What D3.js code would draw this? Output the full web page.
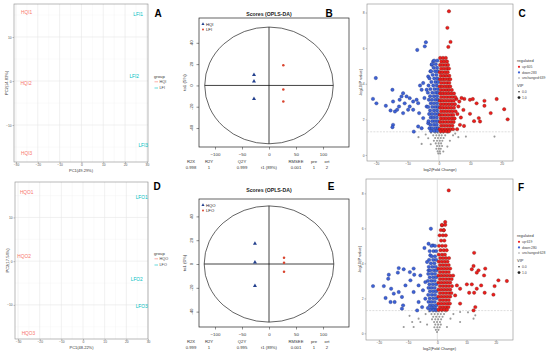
<!DOCTYPE html>
<html><head><meta charset="utf-8">
<script src="https://cdn.jsdelivr.net/npm/d3@7"></script>
<style>body{margin:0;background:#fff}svg{display:block;font-family:"Liberation Sans",Arial,sans-serif}</style>
</head><body><script>
// ---------- DATA ----------
// Panel A (PCA, I)
const pcaA_labels=["HQI1","HQI2","HQI3","LFI1","LFI2","LFI3"];
const pcaA_group=["HQI","HQI","HQI","LFI","LFI","LFI"];
const pcaA_pc1=[-25.1,-25.4,-25.1,26.0,24.2,28.3];
const pcaA_pc2=[15.6,-0.5,-16.4,15.2,1.0,-14.7];
// Panel D (PCA, O)
const pcaD_labels=["HQO1","HQO2","HQO3","LFO1","LFO2","LFO3"];
const pcaD_group=["HQO","HQO","HQO","LFO","LFO","LFO"];
const pcaD_pc1=[-26.0,-27.2,-25.2,27.1,24.8,27.1];
const pcaD_pc2=[15.7,1.1,-16.5,14.5,-4.1,-10.3];
const pcaXTicks=[-30,-20,-10,0,10,20,30];
const pcaYTicks=[-10,0,10];
// Panel B (OPLS-DA, I)
const oplsB_group=["HQI","HQI","HQI","LFI","LFI","LFI"];
const oplsB_t1=[-27.8,-27.8,-27.8,26.5,26.5,26.5];
const oplsB_to1=[9.9,3.8,-12.6,19.0,-3.8,-15.0];
const oplsB_stats=["0.998","1","0.999","0.001","1","2"];
// Panel E (OPLS-DA, O)
const oplsE_group=["HQO","HQO","HQO","LFO","LFO","LFO"];
const oplsE_t1=[-26.0,-26.0,-26.0,27.8,27.8,27.8];
const oplsE_to1=[17.1,1.4,-18.3,5.3,1.1,-6.5];
const oplsE_stats=["0.999","1","0.995","0.001","1","2"];
const oplsStatNames=["R2X","R2Y","Q2Y","RMSEE","pre","ort"];
const oplsXTicks=[-100,-50,0,50,100];
const oplsYTicks=[-40,-20,0,20,40];
// Panel C (volcano, I): [log2FC, -log10 P]
const volC_up=[[3.2,8.07],[2.7,7.14],[3.7,6.35],[3.0,6.07],[5.6,3.14],[8.1,3.15],[10.8,3.14],[12.0,2.9],[14.5,3.04],[14.5,2.76],[18.4,3.14],[20.8,2.57],[21.9,2.0],[16.5,2.35],[13.1,1.88],[9.9,2.31],[8.0,1.63],[6.7,1.69],[12.7,2.07],[9.9,3.1],[6.2,2.72],[7.8,2.53],[6.5,3.0],[7.2,3.2],[5.8,1.45],[7.0,2.1],[11.2,1.9],[5.9,2.3],
[0.4,5.45],[1.3,5.45],[2.2,5.45],[0.8,5.25],[1.7,5.25],[2.6,5.25],[0.4,5.05],[1.2,5.05],[2.1,5.05],[2.9,5.05],[0.7,4.85],[1.6,4.85],[2.5,4.85],[3.2,4.85],[0.3,4.65],[1.1,4.65],[2.0,4.65],[2.8,4.65],[0.6,4.45],[1.5,4.45],[2.4,4.45],[3.3,4.45],[0.4,4.25],[1.2,4.25],[2.0,4.25],[2.9,4.25],[3.6,4.25],[0.7,4.05],[1.6,4.05],[2.5,4.05],[3.3,4.05],[0.3,3.85],[1.1,3.85],[2.0,3.85],[2.8,3.85],[3.6,3.85],[0.6,3.65],[1.5,3.65],[2.4,3.65],[3.2,3.65],[4.1,3.65],[0.4,3.45],[1.2,3.45],[2.1,3.45],[3.0,3.45],[3.9,3.45],[4.8,3.45],[0.7,3.25],[1.6,3.25],[2.5,3.25],[3.4,3.25],[4.3,3.25],[5.2,3.25],[0.3,3.05],[1.1,3.05],[2.0,3.05],[2.9,3.05],[3.8,3.05],[4.7,3.05],[0.6,2.85],[1.5,2.85],[2.4,2.85],[3.3,2.85],[4.2,2.85],[5.1,2.85],[0.4,2.65],[1.2,2.65],[2.1,2.65],[3.0,2.65],[3.9,2.65],[4.8,2.65],[0.7,2.45],[1.6,2.45],[2.5,2.45],[3.4,2.45],[4.3,2.45],[5.3,2.45],[0.3,2.25],[1.1,2.25],[2.0,2.25],[2.9,2.25],[3.8,2.25],[4.6,2.25],[0.6,2.05],[1.5,2.05],[2.4,2.05],[3.3,2.05],[4.2,2.05],[5.0,2.05],[0.4,1.85],[1.2,1.85],[2.1,1.85],[3.0,1.85],[3.9,1.85],[4.7,1.85],[0.7,1.65],[1.6,1.65],[2.5,1.65],[3.4,1.65],[4.3,1.65],[0.3,1.45],[1.1,1.45],[2.0,1.45],[2.9,1.45],[3.7,1.45],[4.5,1.45],[0.6,1.33],[1.5,1.33],[2.4,1.33],[3.2,1.33]];
const volC_down=[[-4.15,6.33],[-4.5,6.1],[-6.9,5.9],[-20.1,4.32],[-21.0,3.15],[-19.9,2.9],[-16.9,2.76],[-14.8,3.66],[-14.6,3.0],[-15.4,2.5],[-14.0,2.44],[-11.4,3.47],[-11.9,3.29],[-12.5,3.1],[-10.3,3.29],[-9.3,3.19],[-8.2,3.0],[-7.1,3.1],[-9.3,2.72],[-11.4,2.35],[-10.9,2.9],[-12.7,2.72],[-13.3,2.54],[-14.6,1.69],[-14.8,1.56],[-8.0,1.31],[-6.6,1.6],[-5.5,1.5],[-5.0,2.07],[-3.4,1.78],[-6.3,2.35],[-3.9,2.72],[-5.0,4.04],[-3.4,4.41],[-2.3,5.07],[-1.8,5.26],[-2.7,4.7],[-3.9,3.66],[-5.5,3.66],[-6.6,2.91],[-8.2,2.54],[-9.8,2.54],[-4.6,3.2],[-6.0,3.9],
[-1.5,5.3],[-0.5,5.3],[-2.2,5.1],[-1.0,5.1],[-1.7,4.9],[-0.6,4.9],[-2.5,4.7],[-1.2,4.7],[-0.4,4.7],[-2.0,4.5],[-0.8,4.5],[-3.0,4.3],[-1.5,4.3],[-0.5,4.3],[-2.4,4.1],[-1.1,4.1],[-0.3,4.1],[-3.3,3.9],[-1.8,3.9],[-0.7,3.9],[-2.7,3.7],[-1.4,3.7],[-0.4,3.7],[-3.5,3.5],[-2.1,3.5],[-1.0,3.5],[-0.3,3.5],[-2.8,3.3],[-1.6,3.3],[-0.6,3.3],[-3.2,3.1],[-2.2,3.1],[-1.1,3.1],[-0.3,3.1],[-2.6,2.9],[-1.6,2.9],[-0.6,2.9],[-3.4,2.7],[-2.1,2.7],[-1.1,2.7],[-0.3,2.7],[-2.8,2.5],[-1.6,2.5],[-0.6,2.5],[-3.1,2.3],[-2.2,2.3],[-1.2,2.3],[-0.3,2.3],[-2.6,2.1],[-1.7,2.1],[-0.7,2.1],[-3.3,1.9],[-2.1,1.9],[-1.2,1.9],[-0.4,1.9],[-2.7,1.7],[-1.6,1.7],[-0.7,1.7],[-3.0,1.5],[-2.2,1.5],[-1.1,1.5],[-0.3,1.5],[-2.5,1.35],[-1.5,1.35],[-0.6,1.35]];
const volC_unch=[[-2.5,1.25],[-1.2,1.25],[-0.4,1.25],[0.5,1.25],[1.4,1.25],[2.8,1.25],[-1.8,1.1],[-0.8,1.1],[0.1,1.1],[0.9,1.1],[2.0,1.1],[-1.2,0.95],[-0.3,0.95],[0.6,0.95],[1.5,0.95],[-1.6,0.8],[-0.6,0.8],[0.3,0.8],[1.1,0.8],[-1.0,0.65],[-0.1,0.65],[0.7,0.65],[-0.6,0.5],[0.2,0.5],[1.0,0.5],[-0.8,0.35],[0.0,0.35],[0.6,0.35],[-0.4,0.2],[0.3,0.2],[-0.2,0.08],[0.4,0.08],[17.7,1.03],[8.6,1.03],[6.2,1.0],[-3.4,0.94],[-5.5,0.62],[2.7,0.47],[1.4,0.19],[4.5,1.1],[-4.2,1.15],[3.5,0.8],[-2.6,0.6],[5.2,1.2],[-6.5,1.0]];
// Panel F (volcano, O)
const volF_up=[[3.9,8.17],[1.6,6.17],[2.2,5.89],[2.7,6.36],[12.6,4.6],[12.4,3.85],[11.8,3.66],[14.1,3.6],[16.4,3.7],[16.0,3.31],[13.5,3.47],[10.1,2.8],[11.8,2.8],[15.0,2.74],[13.5,2.55],[12.6,2.32],[10.9,2.32],[16.2,2.32],[19.2,2.21],[19.6,2.7],[20.9,3.03],[23.8,2.99],[7.8,2.55],[6.7,2.74],[6.1,2.17],[13.0,1.5],[12.4,1.31],[7.8,1.7],
[1.6,6.2],[2.7,6.2],[1.2,5.9],[2.2,5.9],[0.8,5.6],[1.9,5.6],[2.9,5.6],[1.3,5.3],[2.4,5.3],[0.6,5.0],[1.7,5.0],[2.8,5.0],[1.1,4.75],[2.2,4.75],[3.2,4.75],[0.5,4.5],[1.6,4.5],[2.6,4.5],[1.0,4.3],[2.0,4.3],[3.0,4.3],[4.0,4.3],[0.5,4.1],[1.5,4.1],[2.5,4.1],[3.5,4.1],[0.9,3.9],[1.9,3.9],[2.9,3.9],[3.9,3.9],[0.4,3.7],[1.4,3.7],[2.4,3.7],[3.4,3.7],[4.4,3.7],[0.9,3.5],[1.9,3.5],[2.9,3.5],[3.9,3.5],[0.4,3.3],[1.4,3.3],[2.4,3.3],[3.4,3.3],[4.4,3.3],[5.4,3.3],[0.9,3.1],[1.9,3.1],[2.9,3.1],[3.9,3.1],[4.9,3.1],[0.4,2.9],[1.4,2.9],[2.4,2.9],[3.4,2.9],[4.4,2.9],[0.9,2.7],[1.9,2.7],[2.9,2.7],[3.9,2.7],[5.0,2.7],[0.4,2.5],[1.4,2.5],[2.4,2.5],[3.4,2.5],[4.4,2.5],[0.9,2.3],[1.9,2.3],[2.9,2.3],[3.9,2.3],[4.8,2.3],[0.4,2.1],[1.4,2.1],[2.4,2.1],[3.4,2.1],[4.4,2.1],[0.9,1.9],[1.9,1.9],[2.9,1.9],[3.9,1.9],[0.4,1.7],[1.4,1.7],[2.4,1.7],[3.4,1.7],[4.3,1.7],[0.9,1.5],[1.9,1.5],[2.9,1.5],[3.8,1.5],[0.4,1.35],[1.4,1.35],[2.4,1.35],[3.3,1.35]];
const volF_down=[[-2.2,5.98],[-4.4,4.88],[-3.0,5.12],[-1.5,5.03],[-22.0,2.7],[-18.3,2.7],[-16.6,3.35],[-16.8,3.12],[-13.2,3.73],[-13.5,3.47],[-11.5,3.66],[-9.4,3.5],[-8.1,3.7],[-7.9,3.35],[-9.2,3.03],[-5.8,3.31],[-15.8,2.55],[-14.9,2.27],[-17.7,2.02],[-16.0,1.79],[-14.6,1.79],[-12.1,2.08],[-13.2,2.36],[-12.1,1.41],[-11.7,1.6],[-10.9,2.74],[-8.1,2.36],[-6.4,1.79],[-5.2,1.5],[-6.9,1.31],[-4.1,1.98],[-6.4,2.74],[-4.1,2.93],[-3.0,3.6],[-3.5,4.08],[-2.4,4.46],[-4.9,2.46],
[-2.0,5.0],[-0.8,5.0],[-2.6,4.7],[-1.3,4.7],[-0.4,4.7],[-1.9,4.4],[-0.8,4.4],[-2.8,4.2],[-1.4,4.2],[-0.4,4.2],[-2.2,4.0],[-1.0,4.0],[-2.9,3.8],[-1.7,3.8],[-0.6,3.8],[-2.4,3.6],[-1.2,3.6],[-0.3,3.6],[-3.1,3.4],[-1.9,3.4],[-0.8,3.4],[-2.6,3.2],[-1.4,3.2],[-0.4,3.2],[-3.2,3.0],[-2.0,3.0],[-0.9,3.0],[-2.7,2.8],[-1.5,2.8],[-0.4,2.8],[-3.0,2.6],[-2.0,2.6],[-0.9,2.6],[-2.5,2.4],[-1.4,2.4],[-0.4,2.4],[-3.1,2.2],[-1.9,2.2],[-0.8,2.2],[-2.6,2.0],[-1.4,2.0],[-0.3,2.0],[-3.0,1.8],[-2.0,1.8],[-0.9,1.8],[-2.5,1.6],[-1.5,1.6],[-0.4,1.6],[-3.2,1.45],[-1.9,1.45],[-0.8,1.45],[-2.4,1.33],[-1.2,1.33],[-0.3,1.33]];
const volF_unch=[[-2.8,1.25],[-1.5,1.25],[-0.5,1.25],[0.6,1.25],[1.6,1.25],[2.9,1.25],[-2.0,1.1],[-0.9,1.1],[0.2,1.1],[1.2,1.1],[2.3,1.1],[-1.4,0.95],[-0.4,0.95],[0.7,0.95],[1.8,0.95],[-1.8,0.8],[-0.7,0.8],[0.3,0.8],[1.3,0.8],[-1.1,0.65],[-0.1,0.65],[0.9,0.65],[-0.7,0.5],[0.3,0.5],[1.2,0.5],[-1.0,0.35],[0.0,0.35],[0.8,0.35],[-0.5,0.2],[0.4,0.2],[-0.1,0.08],[-11.5,0.36],[-8.1,0.36],[-5.8,0.65],[-8.6,0.65],[-6.4,0.84],[4.5,0.84],[7.8,1.22],[12.4,0.84],[13.0,1.03],[3.3,0.36],[7.8,0.65],[-4.0,1.1],[-3.5,0.5],[5.5,1.1],[10.5,1.2],[-9.5,1.0]];
const volXTicks=[-20,-10,0,10,20];
const volYTicks=[0,2,4,6,8];
const volC_legend=["up:605","down:283","unchanged:639"];
const volF_legend=["up:619","down:280","unchanged:628"];
const vipLegend=["0.0","1.0"];

// ---------- DRAW ----------
const svg=d3.select("body").append("svg").attr("width",550).attr("height",353);
svg.append("rect").attr("width",550).attr("height",353).attr("fill","#fff");
const FONT='"Liberation Sans",Arial,sans-serif';
function txt(g,x,y,s,o={}){
  const t=g.append("text").attr("x",x).attr("y",y).text(s)
    .attr("font-size",o.size||4).attr("fill",o.fill||"#444")
    .attr("text-anchor",o.anchor||"middle").attr("font-weight",o.weight||"normal");
  if(o.rot!==undefined) t.attr("transform",`rotate(${o.rot},${x},${y})`);
  return t;
}
function panelLetter(x,y,s){txt(svg,x,y,s,{size:10,fill:"#000",weight:"bold"});}

function pcaPanel(c){
  const g=svg.append("g");
  const x=d3.scaleLinear().domain(c.xd).range([c.l,c.r]);
  const y=d3.scaleLinear().domain(c.yd).range([c.b,c.t]);
  const xMinor=pcaXTicks.slice(0,-1).map((d,i)=>(d+pcaXTicks[i+1])/2);
  const yMinor=[-15,-5,5,15];
  g.selectAll(null).data(xMinor).enter().append("line").attr("x1",d=>x(d)).attr("x2",d=>x(d)).attr("y1",c.t).attr("y2",c.b).attr("stroke","#f3f3f3").attr("stroke-width",0.4);
  g.selectAll(null).data(yMinor).enter().append("line").attr("y1",d=>y(d)).attr("y2",d=>y(d)).attr("x1",c.l).attr("x2",c.r).attr("stroke","#f3f3f3").attr("stroke-width",0.4);
  g.selectAll(null).data(pcaXTicks).enter().append("line").attr("x1",d=>x(d)).attr("x2",d=>x(d)).attr("y1",c.t).attr("y2",c.b).attr("stroke","#e6e6e6").attr("stroke-width",0.6);
  g.selectAll(null).data(pcaYTicks).enter().append("line").attr("y1",d=>y(d)).attr("y2",d=>y(d)).attr("x1",c.l).attr("x2",c.r).attr("stroke","#e6e6e6").attr("stroke-width",0.6);
  g.append("rect").attr("x",c.l).attr("y",c.t).attr("width",c.r-c.l).attr("height",c.b-c.t).attr("fill","none").attr("stroke","#8a8a8a").attr("stroke-width",0.6);
  const ax=g.append("g").attr("transform",`translate(0,${c.b})`).call(d3.axisBottom(x).tickValues(pcaXTicks).tickSize(1.5).tickPadding(0.5));
  const ay=g.append("g").attr("transform",`translate(${c.l},0)`).call(d3.axisLeft(y).tickValues(pcaYTicks).tickSize(1.5).tickPadding(0.8));
  [ax,ay].forEach(a=>{a.select(".domain").remove();a.selectAll("line").attr("stroke","#666").attr("stroke-width",0.4);a.selectAll("text").attr("font-size",3.3).attr("fill","#555").attr("font-family",FONT);});
  const col={[c.groups[0]]:"#F8766D",[c.groups[1]]:"#00BFC4"};
  g.selectAll(null).data(c.labels).enter().append("text")
    .attr("x",(d,i)=>x(c.pc1[i])).attr("y",(d,i)=>y(c.pc2[i])+1.7)
    .attr("text-anchor","middle").attr("font-size",4.8).attr("fill",(d,i)=>col[c.group[i]]).text(d=>d);
  txt(g,(c.l+c.r)/2,c.b+10,c.xlab,{size:4,fill:"#333"});
  txt(g,c.l-6.5,(c.t+c.b)/2,c.ylab,{size:4,fill:"#333",rot:-90});
  // legend
  txt(g,c.lx,c.ly,"group",{size:4.2,fill:"#333",anchor:"start"});
  c.groups.forEach((gr,i)=>{
    const yy=c.ly+5+i*6.2;
    g.append("line").attr("x1",c.lx+0.5).attr("x2",c.lx+4).attr("y1",yy-1.2).attr("y2",yy-1.2).attr("stroke",col[gr]).attr("stroke-width",0.6);
    txt(g,c.lx+5.5,yy,gr,{size:3.8,fill:"#444",anchor:"start"});
  });
}

function oplsPanel(c){
  const g=svg.append("g");
  const x=d3.scaleLinear().domain(c.xd).range([c.l,c.r]);
  const y=d3.scaleLinear().domain(c.yd).range([c.b,c.t]);
  txt(g,269,c.titleY,"Scores (OPLS-DA)",{size:5.2,fill:"#222",weight:"bold"});
  g.append("rect").attr("x",c.l).attr("y",c.t).attr("width",c.r-c.l).attr("height",c.b-c.t).attr("fill","none").attr("stroke","#222").attr("stroke-width",0.7);
  const cx=x(0),cy=y(c.ecy),rx=x(c.erx)-x(0),ry=y(0)-y(c.ery);
  g.append("ellipse").attr("cx",cx).attr("cy",cy).attr("rx",rx).attr("ry",ry).attr("fill","none").attr("stroke","#222").attr("stroke-width",0.7);
  g.append("line").attr("x1",cx-rx).attr("x2",cx+rx).attr("y1",y(0)).attr("y2",y(0)).attr("stroke","#111").attr("stroke-width",0.8);
  g.append("line").attr("x1",x(0)).attr("x2",x(0)).attr("y1",cy-ry).attr("y2",cy+ry).attr("stroke","#111").attr("stroke-width",0.8);
  const ax=g.append("g").attr("transform",`translate(0,${c.b})`).call(d3.axisBottom(x).tickValues(oplsXTicks).tickSize(2.5).tickPadding(3).tickFormat(d3.format("d")));
  ax.select(".domain").remove();ax.selectAll("line").attr("stroke","#222").attr("stroke-width",0.5);
  ax.selectAll("text").attr("font-size",4.4).attr("fill","#333").attr("font-family",FONT);
  const ay=g.append("g").attr("transform",`translate(${c.l},0)`).call(d3.axisLeft(y).tickValues(oplsYTicks).tickSize(2.5).tickPadding(0).tickFormat(()=>""));
  ay.select(".domain").remove();ay.selectAll("line").attr("stroke","#222").attr("stroke-width",0.5);
  g.selectAll(null).data(oplsYTicks).enter().append("text").attr("x",c.l-6).attr("y",d=>y(d))
    .attr("transform",d=>`rotate(-90,${c.l-6},${y(d)})`).attr("text-anchor","middle")
    .attr("font-size",4.4).attr("fill","#333").text(d=>d);
  txt(g,c.l-13,(c.t+c.b)/2,c.ylab,{size:4.4,fill:"#333",rot:-90});
  // points
  const blue="#23408e",red="#d9452f";
  g.selectAll(null).data(c.t1).enter().append("path")
    .attr("transform",(d,i)=>`translate(${x(d)},${y(c.to1[i])})`)
    .attr("d",(d,i)=>c.group[i]===c.groups[0]?d3.symbol(d3.symbolTriangle,7)():d3.symbol(d3.symbolCircle,5)())
    .attr("fill",(d,i)=>c.group[i]===c.groups[0]?blue:red);
  // legend
  g.append("path").attr("transform",`translate(${c.l+4},${c.t+6})`).attr("d",d3.symbol(d3.symbolTriangle,4)()).attr("fill",blue);
  txt(g,c.l+7,c.t+7.5,c.groups[0],{size:4.2,fill:"#222",anchor:"start"});
  g.append("path").attr("transform",`translate(${c.l+4},${c.t+11.5})`).attr("d",d3.symbol(d3.symbolCircle,3)()).attr("fill",red);
  txt(g,c.l+7,c.t+13,c.groups[1],{size:4.2,fill:"#222",anchor:"start"});
  // stats table
  const sx=[191,209,242,296,314,327];
  oplsStatNames.forEach((n,i)=>{
    txt(g,sx[i],c.b+16,n,{size:4.2,fill:"#333"});
    txt(g,sx[i],c.b+21.5,c.stats[i],{size:4.2,fill:"#333"});
  });
  txt(g,269,c.b+21.5,"t1 (89%)",{size:4.2,fill:"#333"});
}

function volPanel(c){
  const g=svg.append("g");
  const x=d3.scaleLinear().domain(c.xd).range([c.l,c.r]);
  const y=d3.scaleLinear().domain(c.yd).range([c.b,c.t]);
  g.append("rect").attr("x",c.l).attr("y",c.t).attr("width",c.r-c.l).attr("height",c.b-c.t).attr("fill","#fff").attr("stroke","#8a8a8a").attr("stroke-width",0.6);
  g.append("line").attr("x1",x(0)).attr("x2",x(0)).attr("y1",c.t).attr("y2",c.b).attr("stroke","#c8c8c8").attr("stroke-width",0.6);
  g.append("line").attr("x1",c.l).attr("x2",c.r).attr("y1",y(1.3)).attr("y2",y(1.3)).attr("stroke","#c8c8c8").attr("stroke-width",0.6).attr("stroke-dasharray","2,1.2");
  g.selectAll(null).data(c.unch).enter().append("circle").attr("cx",d=>x(d[0])).attr("cy",d=>y(d[1])).attr("r",1.05).attr("fill","#9a9a9a");
  g.selectAll(null).data(c.down).enter().append("circle").attr("cx",d=>x(d[0])).attr("cy",d=>y(d[1])).attr("r",1.7).attr("fill","#3d62d6").attr("stroke","#1f2f7a").attr("stroke-width",0.35);
  g.selectAll(null).data(c.up).enter().append("circle").attr("cx",d=>x(d[0])).attr("cy",d=>y(d[1])).attr("r",1.7).attr("fill","#ee1c1c").attr("stroke","#6a1a0e").attr("stroke-width",0.35);
  const ax=g.append("g").attr("transform",`translate(0,${c.b})`).call(d3.axisBottom(x).tickValues(volXTicks).tickSize(1.5).tickPadding(0.5));
  const ay=g.append("g").attr("transform",`translate(${c.l},0)`).call(d3.axisLeft(y).tickValues(volYTicks).tickSize(1.5).tickPadding(0.8));
  [ax,ay].forEach(a=>{a.select(".domain").remove();a.selectAll("line").attr("stroke","#666").attr("stroke-width",0.4);a.selectAll("text").attr("font-size",3.3).attr("fill","#555").attr("font-family",FONT);});
  txt(g,(c.l+c.r)/2,c.b+9.5,"log2(Fold Change)",{size:4,fill:"#333"});
  txt(g,c.l-5,(c.t+c.b)/2,"-log10(P value)",{size:4,fill:"#333",rot:-90});
  // legend
  txt(g,c.lx,c.ly,"regulated",{size:4,fill:"#333",anchor:"start"});
  const lc=["#ee1c1c","#3d62d6","#9a9a9a"];
  c.legend.forEach((s,i)=>{
    const yy=c.ly+6+i*5.6;
    g.append("circle").attr("cx",c.lx+2).attr("cy",yy-1.2).attr("r",i<2?1.1:0.8).attr("fill",lc[i]);
    txt(g,c.lx+5,yy,s,{size:3.4,fill:"#444",anchor:"start"});
  });
  txt(g,c.lx,c.ly+25,"VIP",{size:4,fill:"#333",anchor:"start"});
  vipLegend.forEach((s,i)=>{
    const yy=c.ly+31+i*5.8;
    g.append("circle").attr("cx",c.lx+2).attr("cy",yy-1.2).attr("r",i?1.4:0.8).attr("fill","#222");
    txt(g,c.lx+5,yy,s,{size:3.4,fill:"#444",anchor:"start"});
  });
}

// Panel A
pcaPanel({l:14,r:148,t:4,b:162,xd:[-30.9,30.5],yd:[-18.4,17.5],labels:pcaA_labels,group:pcaA_group,pc1:pcaA_pc1,pc2:pcaA_pc2,groups:["HQI","LFI"],xlab:"PC1(49.29%)",ylab:"PC2(14.83%)",lx:154,ly:78});
// Panel D
pcaPanel({l:15,r:148,t:182,b:339,xd:[-31.4,30.0],yd:[-17.8,18.1],labels:pcaD_labels,group:pcaD_group,pc1:pcaD_pc1,pc2:pcaD_pc2,groups:["HQO","LFO"],xlab:"PC1(48.22%)",ylab:"PC2(17.54%)",lx:154,ly:255});
// Panel B
oplsPanel({l:199,r:349,t:18,b:147,xd:[-129.6,148.1],yd:[-57.8,63.3],ecy:0,erx:119,ery:54.8,titleY:16,ylab:"to1 (5%)",t1:oplsB_t1,to1:oplsB_to1,group:oplsB_group,groups:["HQI","LFI"],stats:oplsB_stats});
// Panel E
oplsPanel({l:199,r:349,t:199,b:327,xd:[-129.6,148.1],yd:[-52.9,54.6],ecy:0,erx:120,ery:48.8,titleY:192,ylab:"to1 (6%)",t1:oplsE_t1,to1:oplsE_to1,group:oplsE_group,groups:["HQO","LFO"],stats:oplsE_stats});
// Panel C
volPanel({l:367,r:513,t:4,b:161,xd:[-22.9,23.6],yd:[-0.34,8.48],up:volC_up,down:volC_down,unch:volC_unch,legend:volC_legend,lx:517,ly:62});
// Panel F
volPanel({l:366,r:513,t:179,b:340,xd:[-24.4,25.9],yd:[-0.38,8.82],up:volF_up,down:volF_down,unch:volF_unch,legend:volF_legend,lx:517,ly:237});

panelLetter(158,17,"A");panelLetter(329,17,"B");panelLetter(522,17,"C");
panelLetter(157,190,"D");panelLetter(331,190,"E");panelLetter(521,191,"F");
</script></body></html>
